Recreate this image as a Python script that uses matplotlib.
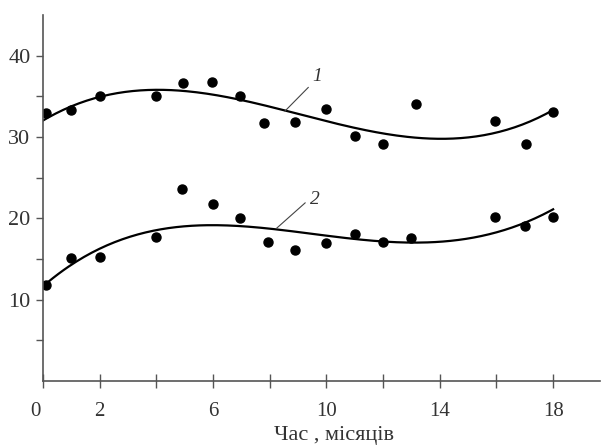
import numpy as np
import matplotlib.pyplot as plt
from matplotlib.transforms import ScaledTranslation

# === Data ===
months = [0.1, 1, 2, 4, 4.95, 5.95, 6.95, 7.8, 8.9, 10, 11, 12, 13.15, 15.95, 17.05, 18]
series1 = [32.9, 33.3, 35.0, 35.0, 36.7, 36.8, 35.0, 31.7, 31.8, 33.4, 30.1, 29.1, 34.1, 32.0, 29.1, 33.1]
months2 = [0.1, 1, 2, 4, 4.9, 6, 6.95, 7.95, 8.9, 10, 11, 12, 13, 15.95, 17, 18]
series2 = [11.8, 15.1, 15.2, 17.7, 23.6, 21.8, 20.1, 17.1, 16.1, 17.0, 18.1, 17.1, 17.6, 20.2, 19.1, 20.2]

# trend curves
curve1_x = [0, 3.4, 5.54, 8.54, 9.07, 13.77, 18]
curve1_y = [32.0, 35.8, 35.5, 33.2, 32.7, 29.9, 33.3]
curve2_x = [0, 2, 4, 5.54, 8.25, 11.4, 13.8, 16.1, 18]
curve2_y = [11.6, 16.4, 18.4, 19.1, 18.8, 17.2, 17.1, 18.4, 21.1]

xticks = [0, 2, 4, 6, 8, 10, 12, 14, 16, 18]
xlabels = ["0", "2", "", "6", "", "10", "", "14", "", "18"]
yticks = [5, 10, 15, 20, 25, 30, 35, 40]
ylabels = ["", "10", "", "20", "", "30", "", "40"]

plt.rcParams['font.family'] = ['Liberation Serif', 'DejaVu Serif']
txt = '#333333'
axc = '#555555'

fig = plt.figure(figsize=(6.05, 4.45), dpi=100)
ax = fig.add_axes([0.071, 0.144, 0.921, 0.822])

# === Trend curves + points ===
xs = np.linspace(0, 18, 200)
for cx, cy, deg in [(curve1_x, curve1_y, 3), (curve2_x, curve2_y, 4)]:
    c = np.polyfit(cx, cy, deg)
    ax.plot(xs, np.polyval(c, xs), color='black', lw=1.6)
ax.plot(months, series1, 'o', color='black', ms=6.5)
ax.plot(months2, series2, 'o', color='black', ms=6.5)

# === Curve labels ===
ax.plot([8.54, 9.36], [33.2, 36.1], color='#444444', lw=0.8)
ax.text(9.66, 37.4, "1", style='italic', fontsize=14, color=txt, ha='center', va='center')
ax.plot([8.25, 9.25], [18.8, 21.9], color='#444444', lw=0.8)
ax.text(9.6, 22.3, "2", style='italic', fontsize=14, color=txt, ha='center', va='center')

ax.set_xlim(0, 19.66)
ax.set_ylim(0, 45)
ax.set_xticks(xticks)
ax.set_xticklabels(xlabels)
ax.set_yticks(yticks)
ax.set_yticklabels(ylabels)
ax.tick_params(axis='x', direction='inout', length=10, width=1, color=axc,
               labelsize=15, labelcolor=txt, pad=10)
ax.tick_params(axis='y', direction='out', length=5, width=1, color=axc,
               labelsize=16, labelcolor=txt, pad=4)
for s in ['top', 'right']:
    ax.spines[s].set_visible(False)
for s in ['left', 'bottom']:
    ax.spines[s].set_color(axc)
    ax.spines[s].set_linewidth(1.2)

# "0" sits a little left of its tick in the original
lbl0 = ax.get_xticklabels()[0]
lbl0.set_transform(lbl0.get_transform() + ScaledTranslation(-8 / 100, 0, fig.dpi_scale_trans))

ax.set_xlabel("Час , місяців", fontsize=16, color=txt)
ax.xaxis.set_label_coords(0.522, -0.150)
ax.xaxis.label.set_va('center')

plt.savefig("out.png", dpi=100)
